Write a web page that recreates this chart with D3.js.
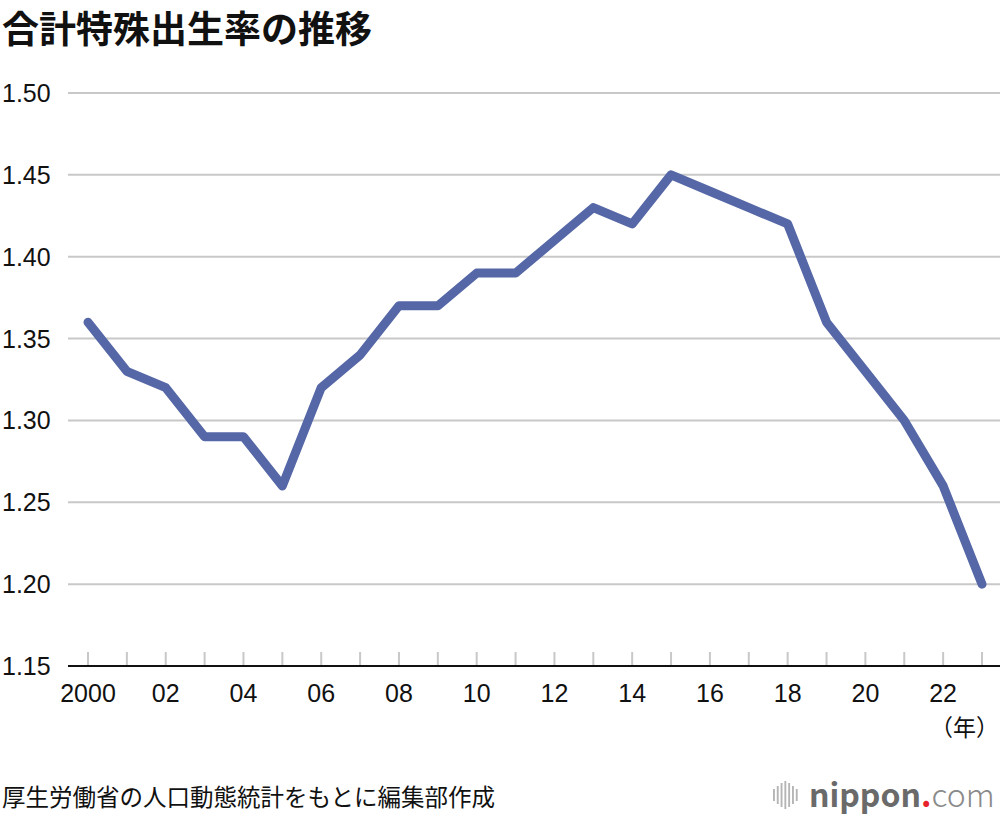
<!DOCTYPE html>
<html lang="ja">
<head>
<meta charset="utf-8">
<title>合計特殊出生率の推移</title>
<script src="https://cdn.jsdelivr.net/npm/d3@7"></script>
<style>
  body { margin: 0; background: #fff; }
  svg text { font-family: "Noto Sans CJK JP", "Noto Sans", sans-serif; }
  svg text.num { font-family: "Liberation Sans", Arial, sans-serif; }
</style>
</head>
<body>
<svg id="chart" width="1000" height="816"></svg>
<script>
// data
var years = [2000,2001,2002,2003,2004,2005,2006,2007,2008,2009,2010,2011,
             2012,2013,2014,2015,2016,2017,2018,2019,2020,2021,2022,2023];
var rates = [1.36,1.33,1.32,1.29,1.29,1.26,1.32,1.34,1.37,1.37,1.39,1.39,
             1.41,1.43,1.42,1.45,1.44,1.43,1.42,1.36,1.33,1.30,1.26,1.20];
var yTicks = [1.15,1.20,1.25,1.30,1.35,1.40,1.45,1.50];
var xLabelYears = [2000,2002,2004,2006,2008,2010,2012,2014,2016,2018,2020,2022];

var svg = d3.select("#chart");

var x = d3.scaleLinear().domain([2000, 2023]).range([88, 982]);
var y = d3.scaleLinear().domain([1.15, 1.50]).range([666, 93]);

// title
svg.append("text")
  .attr("x", 2).attr("y", 43)
  .attr("font-size", 37).attr("font-weight", "bold")
  .attr("fill", "#111")
  .text("合計特殊出生率の推移");

// gridlines
svg.append("g").selectAll("line")
  .data(yTicks.slice(1))
  .enter().append("line")
    .attr("x1", 68).attr("x2", 1000)
    .attr("y1", function(d) { return y(d); })
    .attr("y2", function(d) { return y(d); })
    .attr("stroke", "#c8c8c8").attr("stroke-width", 2);

// y labels
svg.append("g").selectAll("text")
  .data(yTicks)
  .enter().append("text")
    .attr("class", "num")
    .attr("x", 2)
    .attr("y", function(d) { return y(d) + 9; })
    .attr("font-size", 25).attr("fill", "#111")
    .text(function(d) { return d3.format(".2f")(d); });

// x ticks
svg.append("g").selectAll("line")
  .data(years)
  .enter().append("line")
    .attr("x1", function(d) { return x(d); })
    .attr("x2", function(d) { return x(d); })
    .attr("y1", 652).attr("y2", 666)
    .attr("stroke", "#c8c8c8").attr("stroke-width", 2);

// x axis line
svg.append("line")
  .attr("x1", 68).attr("x2", 1000)
  .attr("y1", 666).attr("y2", 666)
  .attr("stroke", "#111").attr("stroke-width", 2);

// x labels
svg.append("g").selectAll("text")
  .data(xLabelYears)
  .enter().append("text")
    .attr("class", "num")
    .attr("x", function(d) { return x(d); })
    .attr("y", 702)
    .attr("text-anchor", "middle")
    .attr("font-size", 25).attr("fill", "#111")
    .text(function(d) { return d === 2000 ? "2000" : d3.format("02d")(d % 100); });

svg.append("text")
  .attr("x", 999).attr("y", 736)
  .attr("text-anchor", "end")
  .attr("font-size", 23).attr("fill", "#111")
  .text("（年）");

// line
var line = d3.line()
  .x(function(d, i) { return x(years[i]); })
  .y(function(d) { return y(d); });

svg.append("path")
  .datum(rates)
  .attr("d", line)
  .attr("fill", "none")
  .attr("stroke", "#5567a6")
  .attr("stroke-width", 9)
  .attr("stroke-linejoin", "round")
  .attr("stroke-linecap", "round");

// source
svg.append("text")
  .attr("x", 2).attr("y", 806)
  .attr("font-size", 23.5).attr("fill", "#111")
  .text("厚生労働省の人口動態統計をもとに編集部作成");

// logo
var logo = svg.append("g").attr("transform", "translate(773,780)");
var barH = [12, 18, 24, 28, 24, 18, 12];
logo.selectAll("rect")
  .data(barH)
  .enter().append("rect")
    .attr("x", function(d, i) { return i * 3.8; })
    .attr("y", function(d) { return 15 - d / 2; })
    .attr("width", 1.9)
    .attr("height", function(d) { return d; })
    .attr("fill", "#b5b5b5");
var lt = logo.append("text")
  .attr("x", 36).attr("y", 27)
  .attr("font-family", "'Open Sans', sans-serif")
  .attr("font-size", 32);
lt.append("tspan").attr("font-weight", "bold").attr("fill", "#6a6a6a").text("nippon");
lt.append("tspan").attr("font-weight", "bold").attr("fill", "#e8222a").text(".");
lt.append("tspan").attr("font-weight", 300).attr("fill", "#8a8a8a").text("com");
</script>
</body>
</html>
